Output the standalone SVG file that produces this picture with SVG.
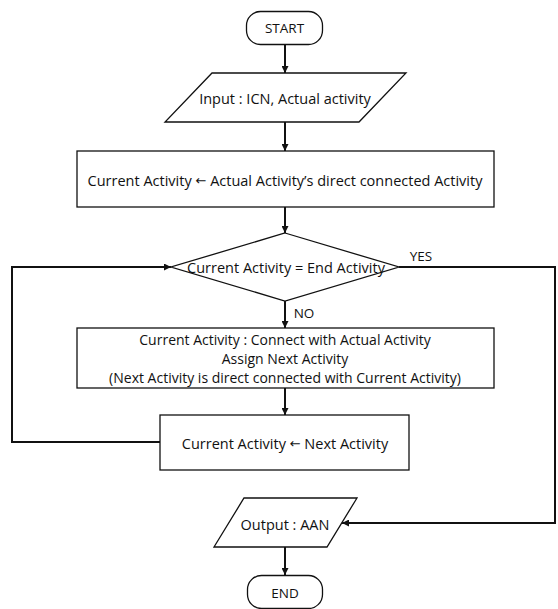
<svg xmlns="http://www.w3.org/2000/svg" width="558" height="609" viewBox="0 0 558 609">
  <style>
    .shape { fill: #ffffff; stroke: #111111; stroke-width: 1.3; }
    .label { font-family: "Open Sans", "Noto Sans", "Liberation Sans", sans-serif; font-size: 14.5px; fill: #111111; text-anchor: middle; dominant-baseline: central; }
    .small { font-size: 13.5px; }
    .multi { font-size: 14px; }
    .sym { font-family: "DejaVu Sans", sans-serif; font-size: 13px; }
    .edge { fill: none; stroke: #111111; stroke-width: 2; }
  </style>
  <defs>
    <marker id="arrow" viewBox="0 0 10 10" refX="10" refY="5" markerWidth="7" markerHeight="7" markerUnits="userSpaceOnUse" orient="auto">
      <path d="M0,0 L10,5 L0,10 Z" fill="#111111"/>
    </marker>
  </defs>

  <rect width="558" height="609" fill="#ffffff"/>

  <!-- connectors -->
  <g id="connectors">
    <line class="edge" x1="285" y1="44" x2="285" y2="73" marker-end="url(#arrow)"/>
    <line class="edge" x1="285" y1="122" x2="285" y2="151" marker-end="url(#arrow)"/>
    <line class="edge" x1="285" y1="207" x2="285" y2="233" marker-end="url(#arrow)"/>
    <line class="edge" x1="285" y1="301" x2="285" y2="328" marker-end="url(#arrow)"/>
    <line class="edge" x1="285" y1="388" x2="285" y2="415" marker-end="url(#arrow)"/>
    <!-- loop back from the update step to the decision -->
    <polyline class="edge" points="160,442 12,442 12,267 171,267" marker-end="url(#arrow)"/>
    <!-- YES branch to the output -->
    <polyline class="edge" points="399,267 555,267 555,523 342,523" marker-end="url(#arrow)"/>
    <line class="edge" x1="285" y1="547" x2="285" y2="575" marker-end="url(#arrow)"/>
    <text class="label small" x="421" y="256">YES</text>
    <text class="label small" x="304" y="313">NO</text>
  </g>

  <g id="start">
    <rect class="shape" x="246.5" y="11.5" width="76" height="33" rx="14" ry="14"/>
    <text class="label small" x="284.5" y="28">START</text>
  </g>

  <g id="input">
    <polygon class="shape" points="212,73 406,73 359,122 165,122"/>
    <text class="label" x="285" y="98">Input : ICN, Actual activity</text>
  </g>

  <g id="init">
    <rect class="shape" x="77" y="151" width="417" height="56"/>
    <text class="label" x="285" y="180">Current Activity <tspan class="sym">←</tspan> Actual Activity’s direct connected Activity</text>
  </g>

  <g id="decision">
    <polygon class="shape" points="285,233 399,267 285,301 171,267"/>
    <text class="label" x="286" y="267">Current Activity = End Activity</text>
  </g>

  <g id="connect">
    <rect class="shape" x="77" y="328" width="417" height="60"/>
    <text class="label multi" x="285" y="339.5">Current Activity : Connect with Actual Activity</text>
    <text class="label multi" x="285" y="358.5">Assign Next Activity</text>
    <text class="label multi" x="285" y="377.5">(Next Activity is direct connected with Current Activity)</text>
  </g>

  <g id="advance">
    <rect class="shape" x="160" y="415" width="249" height="55"/>
    <text class="label" x="285" y="443">Current Activity <tspan class="sym">←</tspan> Next Activity</text>
  </g>

  <g id="output">
    <polygon class="shape" points="244,498 357,498 327,547 214,547"/>
    <text class="label" x="285" y="524">Output : AAN</text>
  </g>

  <g id="end">
    <rect class="shape" x="247.5" y="575.5" width="75" height="33" rx="14" ry="14"/>
    <text class="label small" x="285" y="593">END</text>
  </g>
</svg>
